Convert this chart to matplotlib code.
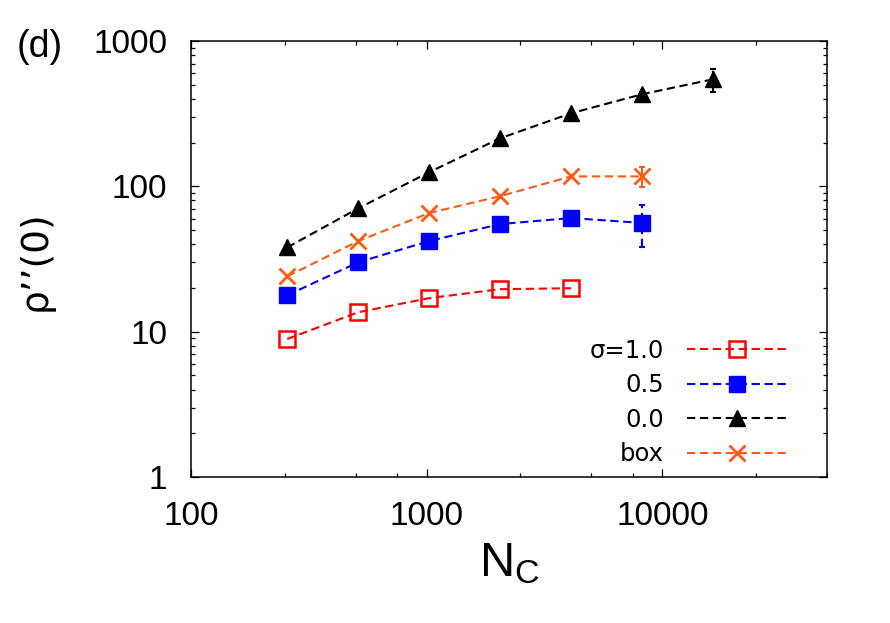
import matplotlib
matplotlib.use("Agg")
import matplotlib.pyplot as plt
import numpy as np
from matplotlib.ticker import LogLocator, FixedLocator, FuncFormatter, NullFormatter

plt.rcParams["font.family"] = ["Liberation Sans", "DejaVu Sans"]
plt.rcParams["mathtext.fontset"] = "custom"
plt.rcParams["mathtext.rm"] = "Liberation Sans"
plt.rcParams["mathtext.it"] = "Liberation Sans:italic"

n_c = [256, 512, 1024, 2048, 4096, 8192, 16384]

sigma10 = [8.9, 13.6, 17.0, 19.6, 19.9]
sigma05 = [17.8, 30.0, 42.0, 55.0, 60.5, 56.0]
sigma05_err = [0, 0, 0, 0, 0, 18]
sigma00 = [38, 70.5, 125, 214, 318, 430, 545]
sigma00_err = [0, 0, 0, 0, 0, 0, 100]
box = [24.0, 42.0, 65.5, 85.5, 117, 117]
box_err = [0, 0, 0, 0, 0, 18]

labels = ["\u03c3=1.0", "0.5", "0.0", "box"]
colors = ["#ff0000", "#0000ff", "#000000", "#ff5a14"]

dash = (0, (4, 2.2))


def errbars(ax, x, y, err, color):
    x = np.asarray(x[:len(y)], float)
    y = np.asarray(y, float)
    err = np.asarray(err, float)
    m = err > 0
    if not m.any():
        return
    eb = ax.errorbar(x[m], y[m], yerr=err[m], fmt="none", ecolor=color,
                     elinewidth=1.5, capsize=2.5, capthick=1.5)
    for lc in eb[2]:
        lc.set_linestyle(dash)


fig = plt.figure(figsize=(8.9, 6.23), dpi=100)
ax = fig.add_axes([191 / 890, (623 - 477) / 623, 636 / 890, 436 / 623])

h1, = ax.plot(n_c[:5], sigma10, linestyle=dash, color=colors[0], lw=1.5,
              marker="s", ms=11, mfc="none", mec=colors[0], mew=1.8, label=labels[0])
h2, = ax.plot(n_c[:6], sigma05, linestyle=dash, color=colors[1], lw=1.5,
              marker="s", ms=11, mfc=colors[1], mec=colors[1], label=labels[1])
errbars(ax, n_c, sigma05, sigma05_err, colors[1])
h3, = ax.plot(n_c, sigma00, linestyle=dash, color=colors[2], lw=1.5,
              marker="^", ms=11, mfc=colors[2], mec=colors[2], label=labels[2])
errbars(ax, n_c, sigma00, sigma00_err, colors[2])
h4, = ax.plot(n_c[:6], box, linestyle=dash, color=colors[3], lw=1.5,
              marker="x", ms=11, mew=2, label=labels[3])
errbars(ax, n_c, box, box_err, colors[3])

ax.set_xscale("log")
ax.set_yscale("log")
ax.set_xlim(100, 50000)
ax.set_ylim(1, 1000)

ax.xaxis.set_major_locator(FixedLocator([100, 1000, 10000]))
ax.xaxis.set_minor_locator(LogLocator(base=10, subs=[2.5, 5, 7.5]))
ax.yaxis.set_major_locator(FixedLocator([1, 10, 100, 1000]))
ax.yaxis.set_minor_locator(LogLocator(base=10, subs=np.arange(2, 10)))
fmt = FuncFormatter(lambda v, p: "%d" % round(v))
ax.xaxis.set_major_formatter(fmt)
ax.yaxis.set_major_formatter(fmt)
ax.xaxis.set_minor_formatter(NullFormatter())
ax.yaxis.set_minor_formatter(NullFormatter())

ax.tick_params(which="both", direction="in", top=True, right=True, width=0.9)
ax.tick_params(which="major", length=5.5, labelsize=24, pad=17)
ax.tick_params(which="minor", length=2.7)
for s in ax.spines.values():
    s.set_linewidth(1.1)

leg = ax.legend(handles=[h1, h2, h3, h4], loc="lower right",
                bbox_to_anchor=(0.937, 0.025), frameon=False,
                prop={"family": "DejaVu Sans", "size": 17.5},
                markerfirst=False, handlelength=4.1, handletextpad=0.95,
                labelspacing=0.43, borderpad=0, borderaxespad=0, numpoints=1)
for col in leg._legend_handle_box.get_children():
    col.align = "right"

fig.text(36 / 890, 1 - 261 / 623, "\u03c1\u2019\u2019(0)", rotation=90,
         ha="center", va="center", fontsize=27, family="DejaVu Sans")
fig.text(509 / 890, 1 - 576 / 623, r"$\mathrm{N_C}$", ha="center",
         va="baseline", fontsize=35)
fig.text(17 / 890, 1 - 57 / 623, "(d)", ha="left", va="baseline", fontsize=27)

fig.savefig("out.png", dpi=100)
